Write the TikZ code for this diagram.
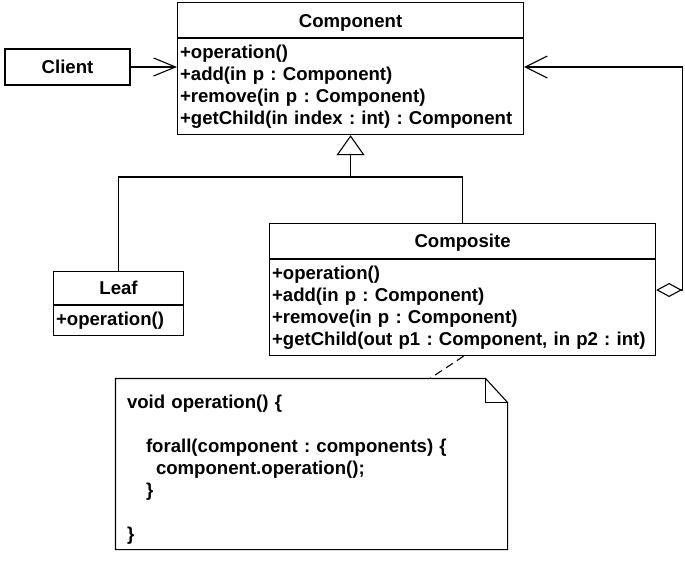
\documentclass[tikz,border=0pt]{standalone}
\usepackage{fontspec}
\setmainfont{Liberation Sans}
\usetikzlibrary{arrows.meta}
\usetikzlibrary{positioning}

\begin{document}
\begin{tikzpicture}[x=1pt,y=-1pt,line width=1.1pt,node distance=0pt,
		font=\bfseries\fontsize{18.6}{22}\selectfont\frenchspacing]
	\tikzstyle{head}=[draw, rectangle, inner sep=0pt, anchor=north west]
	\tikzstyle{body}=[draw, rectangle, inner xsep=2.5pt, inner ysep=0pt, align=left]
	\tikzstyle{inherit}=[-{Triangle[open,length=20pt,width=28pt]}]
	\tikzstyle{assoc}=[-{Straight Barb[length=22pt,width=18pt]}]
	\tikzstyle{aggr}=[{Diamond[open,length=26pt,width=14pt]}-{Straight Barb[length=22pt,width=22pt]}]
	\useasboundingbox (0,0) rectangle (685,561);

	% classes
	\node[head, minimum width=346pt, minimum height=35pt, text height=19pt] (compHead) at (177,2) {Component};
	\node[body, text width=341pt, minimum height=96pt] (compBody) [below=of compHead]
		{+operation()\\+add(in p : Component)\\+remove(in p : Component)\\+getChild(in index : int) : Component};
	\node[draw, minimum width=125pt, minimum height=36pt] (client) at (67.5,67) {Client};
	\node[head, minimum width=130pt, minimum height=33pt] (leafHead) at (53,271) {Leaf};
	\node[body, text width=125pt, minimum height=30pt] (leafBody) [below=of leafHead] {+operation()};
	\node[head, minimum width=386pt, minimum height=35pt, text height=17pt] (cmpsHead) at (269,223) {Composite};
	\node[body, text width=381pt, minimum height=96pt] (cmpsBody) [below=of cmpsHead]
		{+operation()\\+add(in p : Component)\\+remove(in p : Component)\\+getChild(out p1 : Component, in p2 : int)};

	% note
	\node[minimum width=391pt, minimum height=170pt, text width=369pt, inner xsep=11pt, align=left] (note) at (311.5,464)
		{\rule{0pt}{24pt}void operation() \{\\\mbox{}\\
		\hspace*{19pt}forall(component : components) \{\\
		\hspace*{29pt}component.operation();\\
		\hspace*{19pt}\}\\\mbox{}\\
		\}};
	\draw (note.north west) -- ([xshift=-22pt]note.north east) -- ([yshift=-24pt]note.north east)
		-- (note.south east) -- (note.south west) -- cycle;
	\draw ([xshift=-22pt]note.north east) |- ([yshift=-24pt]note.north east);

	% connectors
	\coordinate (fork) at (compBody.south |- 0,177);
	\draw (leafHead.north) |- (fork) -| (cmpsHead.north);
	\draw[inherit] (fork) -- (compBody.south);
	\draw[assoc] (client.east) -- (client.east -| compBody.west);
	\draw[aggr] (cmpsBody.east |- 0,290) -- ++(26,0) |- (compBody.east |- client.east);
	\draw[dashed, dash pattern=on 8pt off 5pt] ([xshift=1pt]cmpsBody.south) -- ([xshift=118.5pt]note.north);
\end{tikzpicture}
\end{document}
